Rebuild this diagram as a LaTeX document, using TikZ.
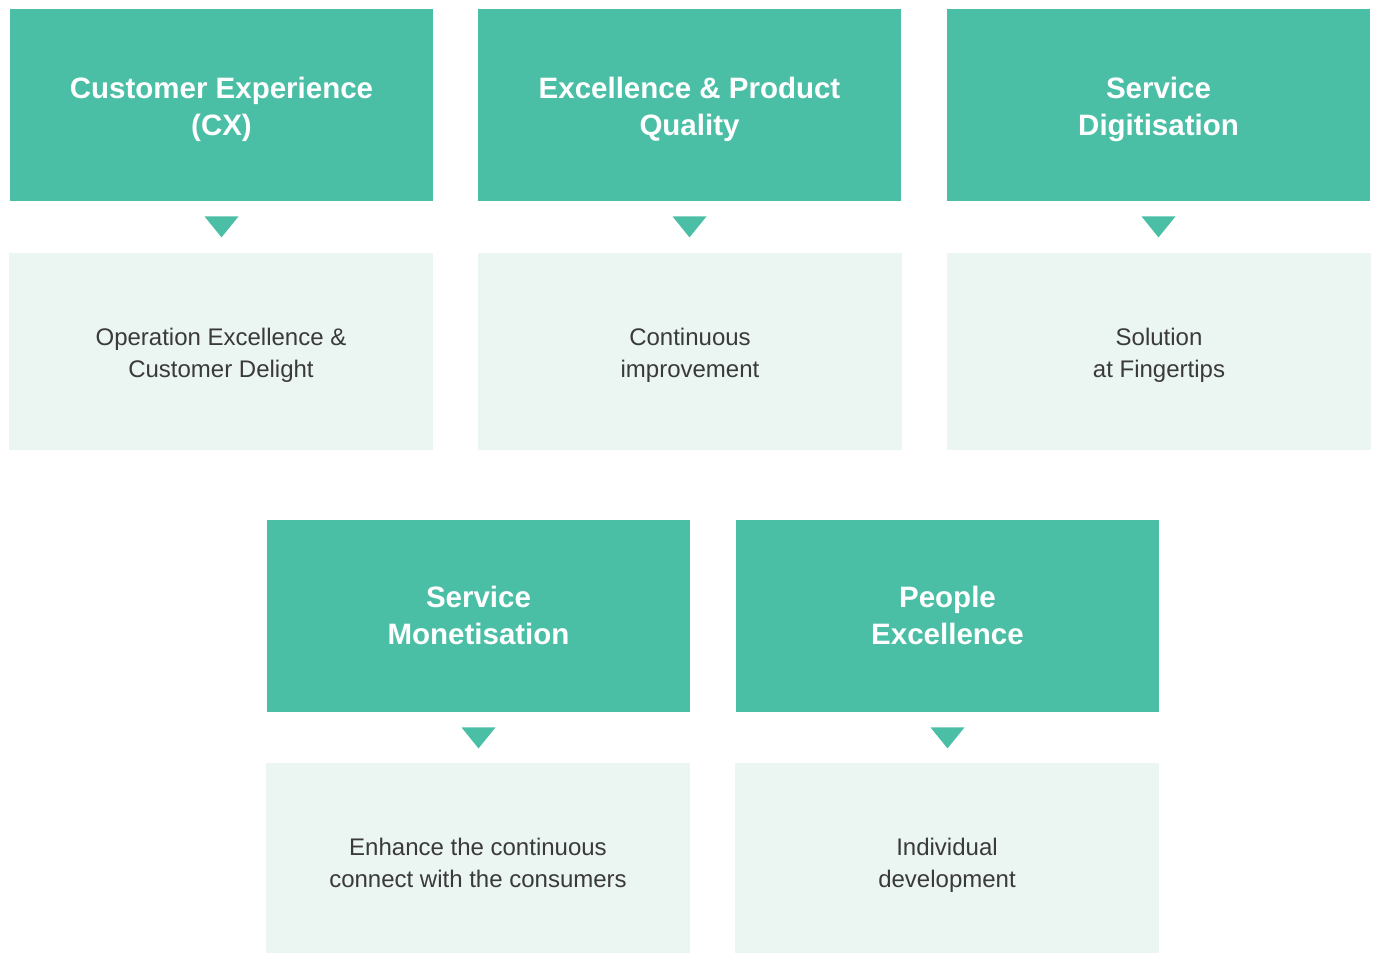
\documentclass[tikz,border=0pt]{standalone}
\usepackage{fontspec}
\setmainfont{Liberation Sans}
\usetikzlibrary{calc}
\definecolor{teal1}{HTML}{4BBFA6}
\definecolor{mint1}{HTML}{EBF5F2}
\definecolor{ink1}{HTML}{3A3A3A}
\begin{document}
\begin{tikzpicture}[x=0.5pt,y=-0.5pt]
            %
            % `head' is used for the green title boxes.
            % `goal' is used for the pale boxes below them.
            % `pointer' is used for the small triangles.
            \tikzstyle{head} = [fill=teal1,text=white,inner sep=0pt,minimum width=211.5pt,minimum height=96pt,
                text height=33.5pt,text depth=3.5pt,
                align=center,font=\fontsize{14.75}{18.5}\selectfont\bfseries]
            \tikzstyle{goal} = [fill=mint1,text=ink1,inner sep=0pt,minimum width=212pt,
                text height=28.5pt,text depth=3pt,
                align=center,font=\fontsize{12}{16}\selectfont]
            \tikzstyle{pointer} = [fill=teal1]
            \useasboundingbox (0,0) rectangle (1376,954);
            %
            % Top row
            \node[head] (head1) at (221.5,105) {Customer Experience\\(CX)};
            \node[head] (head2) at (689.5,105) {Excellence \& Product\\Quality};
            \node[head] (head3) at (1158.5,105) {Service\\Digitisation};
            \node[goal,minimum height=98.5pt] (goal1) at (221,351.5) {Operation Excellence \&\\Customer Delight};
            \node[goal,minimum height=98.5pt] (goal2) at (690,351.5) {Continuous\\improvement};
            \node[goal,minimum height=98.5pt] (goal3) at (1159,351.5) {Solution\\at Fingertips};
            %
            % Bottom row
            \node[head,text height=31.5pt] (head4) at (478.5,616) {Service\\Monetisation};
            \node[head,text height=31.5pt] (head5) at (947.5,616) {People\\Excellence};
            \node[goal,minimum height=95pt,text height=32pt] (goal4) at (478,858) {Enhance the continuous\\connect with the consumers};
            \node[goal,minimum height=95pt,text height=32pt] (goal5) at (947,858) {Individual\\development};
            %
            % Triangles
            \foreach \n in {1,...,5}
                \fill[pointer] ($(head\n.south)+(-17,15)$) -- ++(34,0) -- ++(-17,21) -- cycle;
        \end{tikzpicture}
\end{document}
